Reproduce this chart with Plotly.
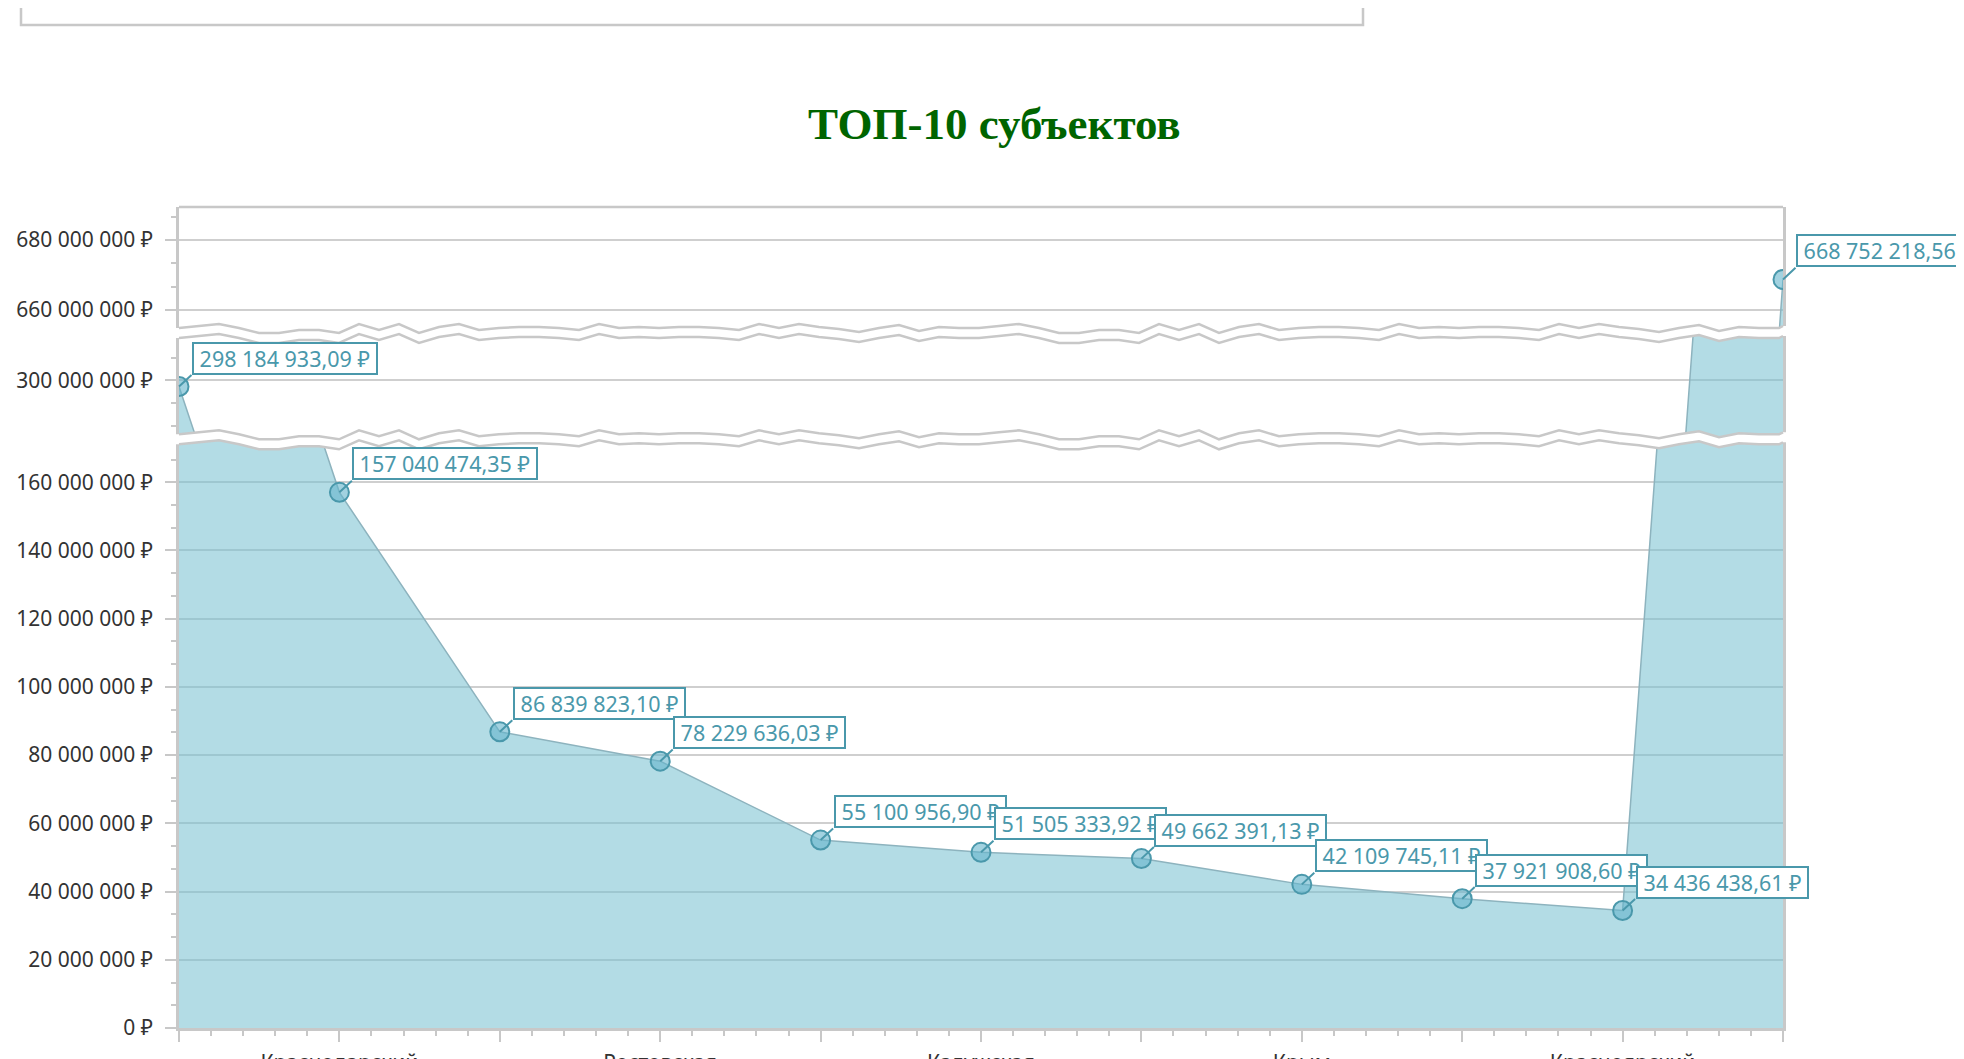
import plotly.graph_objects as go

# ---------------- data ----------------
regions = ["", "Краснодарский", "", "Ростовская", "", "Калужская", "", "Крым", "", "Красноярский", ""]
values = [298184933.09, 157040474.35, 86839823.10, 78229636.03, 55100956.90,
          51505333.92, 49662391.13, 42109745.11, 37921908.60, 34436438.61, 668752218.56]
title_text = "ТОП-10 субъектов"

# broken y-axis segments (value ranges, rubles)
range_lower = [0, 172.3e6]
range_middle = [282.4e6, 313.6e6]
range_upper = [653.2e6, 689.4e6]

# ---------------- geometry / style (screen pixels) ----------------
W, H = 1964, 1059
OFF = 8                      # default page body margin
L, R = 179, 1783             # plot left / right on screen
T, B = 207, 1028             # plot top / bottom on screen
BREAK1, BREAK2 = 334.0, 440.3


def px(p):
    return (p - L) / (R - L)


def py(p):
    return (B - p) / (B - T)


TEAL = "#4a98ab"
GRAY = "#c8c8c8"
GRID = "#cfcfcf"
FILL = "rgba(120,192,208,0.56)"
FONT = "Noto Sans"
NB = "\u00a0"


def fmt_money(v):
    return f"{v:,.2f}".replace(",", " ").replace(".", ",") + " ₽"


labels = [fmt_money(v) for v in values]
idx = list(range(len(values)))

fig = go.Figure()
axes = [("y", range_lower), ("y2", range_middle), ("y3", range_upper)]
for ya, rng in axes:
    fig.add_trace(go.Scatter(x=idx, y=values, mode="lines", fill="tozeroy",
                             fillcolor=FILL, line=dict(color="#8db3be", width=1.5),
                             xaxis="x", yaxis=ya, hoverinfo="skip", showlegend=False))
    fig.add_trace(go.Scatter(x=idx, y=values, mode="markers",
                             marker=dict(size=19, color="rgba(100,180,204,0.6)",
                                         line=dict(color=TEAL, width=2)),
                             cliponaxis=True, xaxis="x", yaxis=ya,
                             hoverinfo="skip", showlegend=False))

yax_common = dict(
    showline=True, linecolor=GRAY, linewidth=2.5, mirror=True,
    ticks="outside", ticklen=11, tickwidth=2, tickcolor=GRAY,
    showgrid=True, gridcolor=GRID, gridwidth=2, zeroline=False,
    tick0=0, dtick=20e6, tickformat=",.0f", ticksuffix=" ₽",
    tickfont=dict(family=FONT, size=21, color="#333333"),
    ticklabelstandoff=8, automargin=False,
    minor=dict(tick0=0, dtick=20e6 / 3, ticks="outside", ticklen=5,
               tickwidth=2, tickcolor=GRAY, showgrid=False),
    fixedrange=True, anchor="x",
)

fig.update_layout(
    width=W, height=H,
    margin=dict(l=L - OFF, r=W - (R - OFF), t=T - OFF, b=H - (B - OFF), pad=0,
                autoexpand=False),
    paper_bgcolor="white", plot_bgcolor="white",
    separators=", ",
    showlegend=False,
    xaxis=dict(range=[0, 10], showline=True, linecolor=GRAY, linewidth=3,
               ticks="outside", ticklen=11, tickwidth=2, tickcolor=GRAY,
               tickvals=idx, ticktext=regions, showgrid=False, zeroline=False,
               tickfont=dict(family=FONT, size=21, color="#333333"),
               ticklabelstandoff=3, automargin=False,
               minor=dict(dtick=0.2, ticks="outside", ticklen=5, tickwidth=2,
                          tickcolor=GRAY, showgrid=False),
               anchor="y", fixedrange=True),
    yaxis=dict(domain=[0, py(BREAK2)], range=range_lower, **yax_common),
    yaxis2=dict(domain=[py(BREAK2), py(BREAK1)], range=range_middle, **yax_common),
    yaxis3=dict(domain=[py(BREAK1), 1], range=range_upper, **yax_common),
)


# ---------------- data labels ----------------
def seg_axis(v):
    for ya, rng in axes:
        if rng[0] <= v <= rng[1]:
            return ya
    return "y"


ann = []
for i, v in enumerate(values):
    ya = seg_axis(v)
    ann.append(dict(x=i, y=v, xref="x", yref=ya, text="", showarrow=True,
                    arrowhead=0, arrowwidth=2, arrowcolor=TEAL,
                    ax=14, ay=-13, axref="pixel", ayref="pixel", standoff=0,
                    startstandoff=0))
    ann.append(dict(x=i, y=v, xref="x", yref=ya, text=NB + labels[i] + NB,
                    showarrow=False, xanchor="left", yanchor="bottom",
                    xshift=13, yshift=12,
                    bgcolor="white", bordercolor=TEAL, borderwidth=2, borderpad=0,
                    font=dict(family=FONT, size=21.5, color=TEAL)))

ann.append(dict(x=px(994), y=py(124), xref="paper", yref="paper",
                text="<b>" + title_text + "</b>", showarrow=False,
                xanchor="center", yanchor="middle",
                font=dict(family="Liberation Serif", size=45, color="#006400")))
fig.update_layout(annotations=ann)

# ---------------- decorations: axis-break bands, frame ----------------
WAVE = [-1, -3, -5, -1, 4, 4, 1, 1, 4, -5, 1, -5, 4, -2, -5, 1, -1, -2, -2, -1,
        1, -5, -1, -2, -1, -2, -2, -1, 1, -5, -1, -5, -2, 0, 3, -1, -4, 2, -2, -1]
xs = list(range(L, R, 20)) + [R]
ws = [WAVE[k % len(WAVE)] for k in range(len(xs))]

shapes = []
for c in (BREAK1, BREAK2):
    up = [(px(x), py(c - 5 + w)) for x, w in zip(xs, ws)]
    lo = [(px(x), py(c + 5 + w)) for x, w in zip(xs, ws)]
    poly = ([(px(L - 12), up[0][1])] + up + [(px(R + 8), up[-1][1]),
                                             (px(R + 8), lo[-1][1])]
            + lo[::-1] + [(px(L - 12), lo[0][1])])
    path = "M " + " L ".join(f"{a:.5f},{b:.5f}" for a, b in poly) + " Z"
    shapes.append(dict(type="path", path=path, xref="paper", yref="paper",
                       fillcolor="white", line=dict(width=0), layer="above"))
    for line_pts in (up, lo):
        p = "M " + " L ".join(f"{a:.5f},{b:.5f}" for a, b in line_pts)
        shapes.append(dict(type="path", path=p, xref="paper", yref="paper",
                           fillcolor="rgba(0,0,0,0)", line=dict(color=GRAY, width=2.5),
                           layer="above"))

# top frame line
shapes.append(dict(type="line", xref="paper", yref="paper", x0=0, x1=1, y0=1, y1=1,
                   line=dict(color=GRAY, width=2.5), layer="above"))
# box of the page element above the chart
shapes.append(dict(type="rect", xref="paper", yref="paper",
                   x0=px(21), x1=px(1363), y0=py(25), y1=py(-20),
                   line=dict(color=GRAY, width=2.5), fillcolor="rgba(0,0,0,0)"))
fig.update_layout(shapes=shapes)

fig.write_html("out.html", config={"displayModeBar": False})
